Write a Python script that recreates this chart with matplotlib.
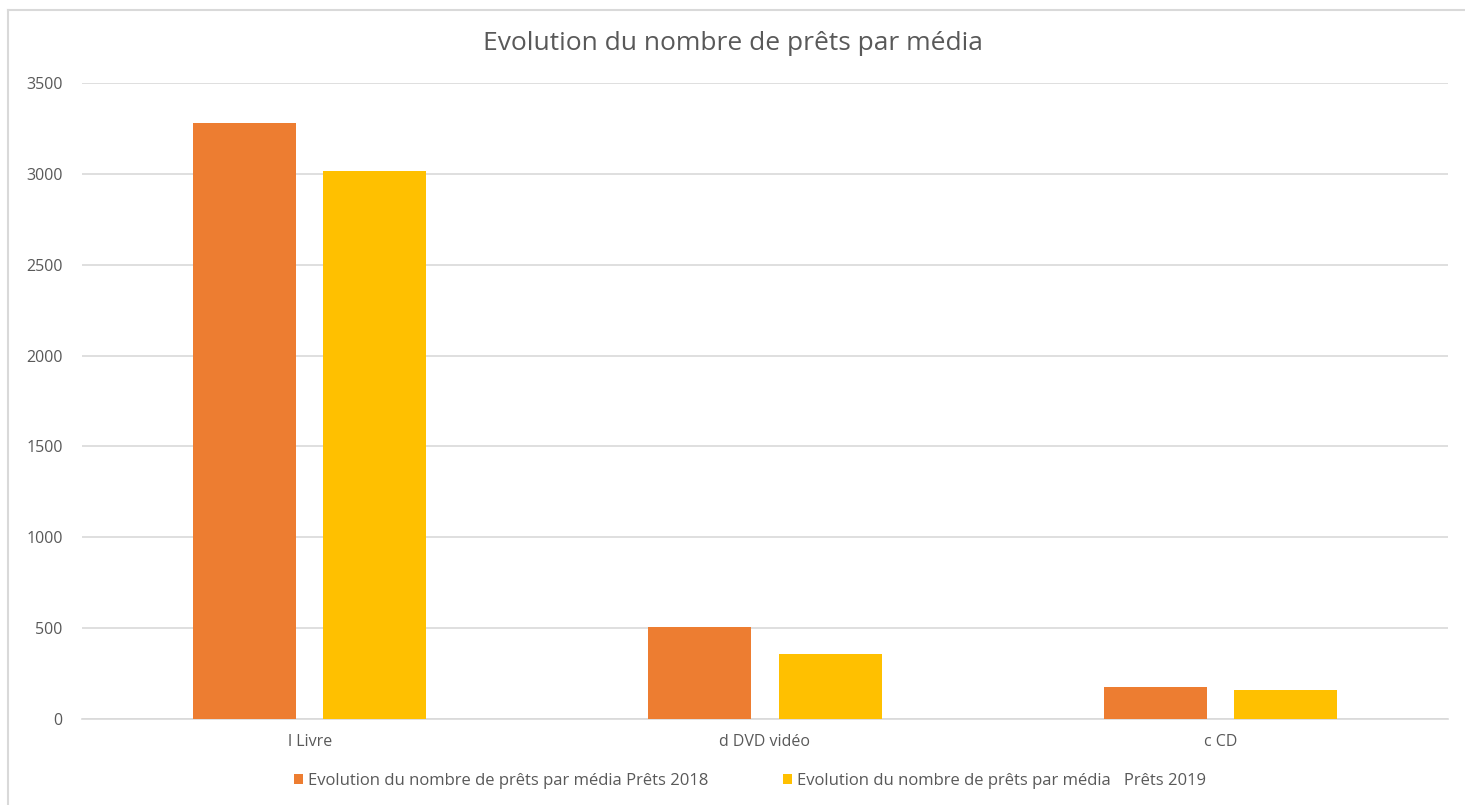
import numpy as np
import matplotlib.pyplot as plt
from matplotlib.lines import Line2D

plt.rcParams['font.family'] = ['Open Sans', 'DejaVu Sans']

# Data
categories = ["l Livre", "d DVD vidéo", "c CD"]
prets_2018 = [3280, 508, 175]
prets_2019 = [3015, 360, 157]
series_names = ["Evolution du nombre de prêts par média Prêts 2018",
                "Evolution du nombre de prêts par média   Prêts 2019"]
yticks = [0, 500, 1000, 1500, 2000, 2500, 3000, 3500]

orange = "#ED7D31"
yellow = "#FFC000"
txt = "#595959"
grid = "#D9D9D9"

W, H = 1465, 805
fig = plt.figure(figsize=(W / 100, H / 100), dpi=100)
ax = fig.add_axes([82 / W, 1 - 719 / H, (1448 - 82) / W, (719 - 83) / H])

x = np.arange(len(categories))
bw = 0.226
off = 0.143
ax.bar(x - off, prets_2018, width=bw, color=orange, label=series_names[0], zorder=3)
ax.bar(x + off, prets_2019, width=bw, color=yellow, label=series_names[1], zorder=3)

ax.set_xlim(-0.5, len(categories) - 0.5)
ax.set_ylim(0, 3500)
ax.set_yticks(yticks)
ax.set_yticklabels([str(v) for v in yticks])
ax.set_xticks(x)
ax.set_xticklabels(categories)
ax.tick_params(axis='both', length=0, labelsize=11.5, colors=txt)
ax.tick_params(axis='y', pad=14)
ax.tick_params(axis='x', pad=11)

ax.yaxis.grid(True, color=grid, linewidth=1.2, zorder=0)
for s in ["top", "right", "left"]:
    ax.spines[s].set_visible(False)
ax.spines["bottom"].set_color(grid)
ax.spines["bottom"].set_linewidth(1.2)

fig.text(0.5, 1 - 43 / H, "Evolution du nombre de prêts par média",
         ha='center', va='center', fontsize=19, color=txt)

handles, labels = ax.get_legend_handles_labels()
fig.legend(handles, labels, loc='center', bbox_to_anchor=(0.512, 1 - 781 / H),
           ncol=2, frameon=False, fontsize=12, labelcolor=txt,
           handlelength=0.55, handleheight=0.55, handletextpad=0.3, columnspacing=4.5)

# chart frame (top and left edges visible)
fig.add_artist(Line2D([8 / W, 8 / W], [0, 1 - 10 / H], transform=fig.transFigure,
                      color=grid, linewidth=1.5))
fig.add_artist(Line2D([8 / W, 1464 / W], [1 - 10 / H, 1 - 10 / H], transform=fig.transFigure,
                      color=grid, linewidth=1.5))

fig.savefig("out.png", dpi=100, facecolor="white")
